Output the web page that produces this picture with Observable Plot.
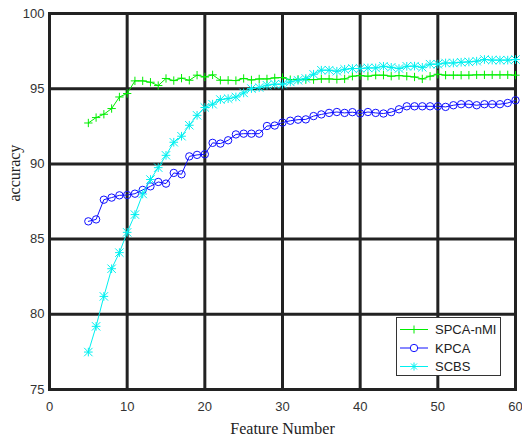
<!DOCTYPE html>
<html><head><meta charset="utf-8">
<script src="https://cdn.jsdelivr.net/npm/d3@7"></script>
<script src="https://cdn.jsdelivr.net/npm/@observablehq/plot@0.6"></script>
<style>
body{margin:0;background:#fff;}
#wrap{position:relative;width:522px;height:442px;}
#legend{position:absolute;left:396px;top:317px;width:105px;height:59px;box-sizing:border-box;border:1px solid #333;background:#fff;}
#legend svg{display:block;}
</style></head><body><div id="wrap"></div>
<script>
const featureNumber = [5,6,7,8,9,10,11,12,13,14,15,16,17,18,19,20,21,22,23,24,25,26,27,28,29,30,31,32,33,34,35,36,37,38,39,40,41,42,43,44,45,46,47,48,49,50,51,52,53,54,55,56,57,58,59,60];
const spcaNMI = [92.72,93.08,93.3,93.68,94.45,94.68,95.52,95.52,95.43,95.21,95.68,95.54,95.7,95.56,95.9,95.78,95.92,95.56,95.56,95.54,95.68,95.58,95.65,95.65,95.72,95.74,95.6,95.62,95.6,95.6,95.65,95.65,95.62,95.65,95.83,95.87,95.83,95.9,95.9,95.83,95.87,95.83,95.78,95.65,95.83,95.96,95.9,95.9,95.9,95.9,95.92,95.92,95.92,95.92,95.92,95.9];
const kpca = [86.18,86.31,87.62,87.76,87.91,87.93,88.02,88.27,88.51,88.8,88.69,89.4,89.31,90.5,90.6,90.64,91.4,91.35,91.57,91.96,92.01,92.01,92.01,92.52,92.55,92.75,92.87,92.94,92.96,93.18,93.29,93.39,93.45,93.39,93.44,93.35,93.45,93.39,93.35,93.44,93.63,93.83,93.83,93.83,93.83,93.83,93.79,93.9,93.97,93.97,93.9,93.97,93.97,93.97,94.05,94.23];
const scbs = [77.49,79.2,81.19,83.03,84.1,85.45,86.63,88.0,88.96,89.75,90.57,91.44,91.84,92.57,93.23,93.75,93.97,94.28,94.34,94.45,94.72,95.01,95.08,95.23,95.3,95.3,95.45,95.56,95.68,95.96,96.23,96.23,96.16,96.29,96.34,96.34,96.38,96.38,96.49,96.42,96.34,96.49,96.5,96.42,96.63,96.63,96.71,96.71,96.76,96.78,96.83,96.94,96.9,96.9,96.9,96.94];
const seriesNames = ["SPCA-nMI","KPCA","SCBS"];
const seriesColors = ["#00ee00","#1010ff","#00f0f0"];
const xTicks = [0,10,20,30,40,50,60];
const yTicks = [75,80,85,90,95,100];
const xLabel = "Feature Number";
const yLabel = "accuracy";

const toRows = (vals, name) => vals.map((v, j) => ({series: name, x: featureNumber[j], y: v}));
const gRows = toRows(spcaNMI, seriesNames[0]);
const bRows = toRows(kpca, seriesNames[1]);
const cRows = toRows(scbs, seriesNames[2]);

const chart = Plot.plot({
  width: 522, height: 442,
  marginLeft: 49, marginRight: 7, marginTop: 13, marginBottom: 53,
  style: {fontFamily: "'Liberation Sans', Arial, sans-serif", fontSize: "13px", background: "#fff", color: "#333"},
  x: {domain: [0, 60], ticks: xTicks},
  y: {domain: [75, 100], ticks: yTicks},
  color: {domain: seriesNames, range: seriesColors},
  marks: [
    Plot.gridX(xTicks, {stroke: "#222", strokeOpacity: 1, strokeWidth: 3}),
    Plot.gridY(yTicks, {stroke: "#222", strokeOpacity: 1, strokeWidth: 3}),
    Plot.frame({stroke: "#222", strokeWidth: 3}),
    Plot.axisX(xTicks, {tickSize: 0, tickPadding: 12, label: null, fill: "#333", fontSize: 13}),
    Plot.axisY(yTicks, {tickSize: 0, tickPadding: 5, label: null, fill: "#333", fontSize: 13}),
    Plot.line(gRows, {x: "x", y: "y", stroke: "series", strokeWidth: 1}),
    Plot.dot(gRows, {x: "x", y: "y", symbol: "plus", r: 2.8, stroke: "series", strokeWidth: 1}),
    Plot.line(bRows, {x: "x", y: "y", stroke: "series", strokeWidth: 1}),
    Plot.dot(bRows, {x: "x", y: "y", symbol: "circle", r: 3.7, stroke: "series", fill: "none", strokeWidth: 1}),
    Plot.line(cRows, {x: "x", y: "y", stroke: "series", strokeWidth: 1}),
    Plot.dot(cRows, {x: "x", y: "y", symbol: "plus", r: 2.9, stroke: "series", strokeWidth: 1}),
    Plot.dot(cRows, {x: "x", y: "y", symbol: "times", r: 3.9, stroke: "series", strokeWidth: 1}),
    Plot.text([xLabel], {text: d => d, frameAnchor: "bottom", dy: 44, lineAnchor: "bottom", fontFamily: "'Liberation Serif', 'Times New Roman', serif", fontSize: 16, fill: "#222"}),
    Plot.text([yLabel], {text: d => d, frameAnchor: "left", dx: -35, rotate: -90, fontFamily: "'Liberation Serif', 'Times New Roman', serif", fontSize: 16, fill: "#222"})
  ]
});
const wrap = document.getElementById("wrap");
wrap.appendChild(chart);

// legend
const legend = document.createElement("div");
legend.id = "legend";
const rowsY = [11.5, 30, 48.5];
const ns = "http://www.w3.org/2000/svg";
const lsvg = document.createElementNS(ns, "svg");
lsvg.setAttribute("width", 103); lsvg.setAttribute("height", 57);
seriesNames.forEach((name, i) => {
  const y = rowsY[i], c = seriesColors[i];
  let s = `<line x1="3" x2="31" y1="${y}" y2="${y}" stroke="${c}" stroke-width="1"/>`;
  if (i === 0) s += `<path d="M13,${y}h8M17,${y-4}v8" stroke="${c}" fill="none"/>`;
  if (i === 1) s += `<circle cx="17" cy="${y}" r="3.7" stroke="${c}" fill="#fff"/>`;
  if (i === 2) s += `<path d="M13,${y}h8M17,${y-4}v8M14,${y-3}l6,6M14,${y+3}l6,-6" stroke="${c}" fill="none"/>`;
  s += `<text x="38" y="${y}" dy="0.35em" font-family="'Liberation Sans', Arial, sans-serif" font-size="13" fill="#222">${name}</text>`;
  lsvg.insertAdjacentHTML("beforeend", s);
});
legend.appendChild(lsvg);
wrap.appendChild(legend);
</script>
</body></html>
